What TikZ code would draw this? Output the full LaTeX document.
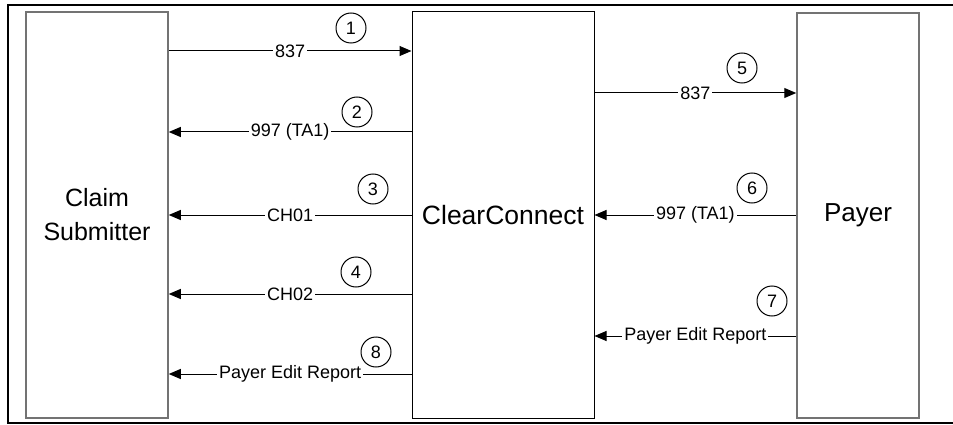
\documentclass[tikz,border=0pt]{standalone}
\usepackage{fontspec}
\setmainfont{Liberation Sans}
\usetikzlibrary{arrows.meta}

\tikzset{
	party/.style={draw=black!55, line width=1.5pt, align=center, minimum height=406pt, font=\fontsize{25}{34}\selectfont},
	msg/.style={-{Triangle[length=12pt,width=10pt]}, line width=1pt},
	msglabel/.style={fill=white, inner xsep=2pt, inner ysep=1pt, font=\fontsize{18}{20}\selectfont},
	stepnum/.style={circle, draw, line width=1pt, minimum size=30pt, inner sep=0pt, font=\fontsize{18}{20}\selectfont}
}

\begin{document}
\begin{tikzpicture}[x=1pt,y=-1pt]
		\useasboundingbox (0,0) rectangle (953,425);
		\draw[line width=2pt] (960,5) -- (8,5) -- (8,423) -- (960,423);
		
		% parties
		\node[party, minimum width=142pt] (cs) at (97,215) {Claim\\Submitter};
		\node[party, draw=black, line width=1pt, minimum width=182pt, font=\fontsize{26.5}{30}\selectfont] (cc) at (503,215) {ClearConnect};
		\node[party, minimum width=122pt, minimum height=405pt, font=\fontsize{26}{30}\selectfont] (payer) at (858,215.5) {Payer};
		
		% claim submitter <-> clearconnect
		\draw[msg] (cs.east |- 0,51) -- node[msglabel]{837} (cc.west |- 0,51);
		\foreach \y/\txt in {132/997 (TA1), 215/CH01, 294/CH02, 374/Payer Edit Report}{
			\draw[msg] (cc.west |- 0,\y) -- node[msglabel]{\txt} (cs.east |- 0,\y);
		}
		
		% clearconnect <-> payer
		\draw[msg] (cc.east |- 0,93) -- node[msglabel]{837} (payer.west |- 0,93);
		\foreach \y/\txt in {215/997 (TA1), 336/Payer Edit Report}{
			\draw[msg] (payer.west |- 0,\y) -- node[msglabel]{\txt} (cc.east |- 0,\y);
		}
		
		% step numbers
		\foreach \n/\x/\y in {1/351/28, 2/357/112, 3/373/189, 4/356/272, 5/742/68, 6/752/188, 7/772/301, 8/376/352}{
			\node[stepnum] (n\n) at (\x,\y) {\n};
		}
	\end{tikzpicture}
\end{document}
